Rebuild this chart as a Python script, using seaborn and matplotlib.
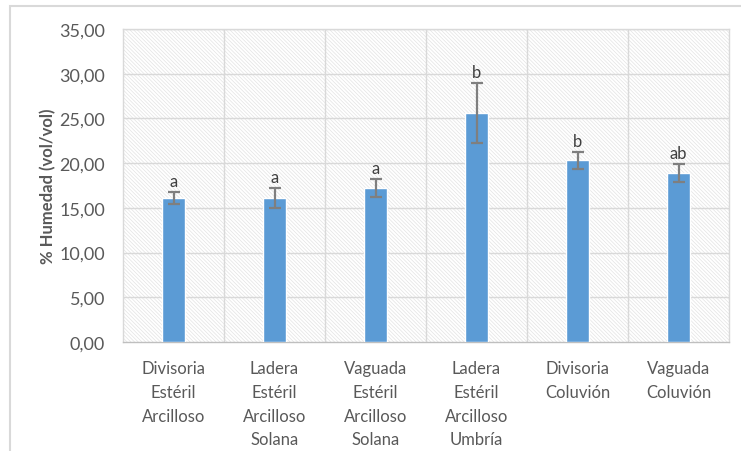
import matplotlib
matplotlib.use("Agg")
import matplotlib.pyplot as plt
from matplotlib.patches import Rectangle
import numpy as np
import pandas as pd
import seaborn as sns

# Soil moisture by landform unit
categories = [
    "Divisoria\nEstéril\nArcilloso",
    "Ladera\nEstéril\nArcilloso\nSolana",
    "Vaguada\nEstéril\nArcilloso\nSolana",
    "Ladera\nEstéril\nArcilloso\nUmbría",
    "Divisoria\nColuvión",
    "Vaguada\nColuvión",
]
humidity = [16.1, 16.1, 17.2, 25.6, 20.3, 18.9]
errors = [0.7, 1.15, 1.0, 3.4, 0.9, 1.0]
groups = ["a", "a", "a", "b", "b", "ab"]
y_ticks = [0, 5, 10, 15, 20, 25, 30, 35]

df = pd.DataFrame({"unit": categories, "humidity": humidity})

sns.set_theme(style="white")
plt.rcParams["font.family"] = ["Lato", "DejaVu Sans"]
plt.rcParams["hatch.linewidth"] = 0.5

text_color = "#595959"
grid_color = "#d9d9d9"
bar_color = "#5b9bd5"

fig = plt.figure(figsize=(7.41, 4.52), dpi=100)
ax = fig.add_axes([123 / 741, 1 - 343 / 452, 606 / 741, 313 / 452])

# finely hatched plot-area background
bg = Rectangle((0, 0), 1, 1, transform=ax.transAxes, facecolor="white",
               edgecolor="#e3e3e3", hatch="\\" * 9, linewidth=0, zorder=0)
ax.add_patch(bg)

sns.barplot(data=df, x="unit", y="humidity", color=bar_color, width=0.22,
            saturation=1, errorbar=None, ax=ax, zorder=3)

x = np.arange(len(categories))
ax.errorbar(x, humidity, yerr=errors, fmt="none", ecolor="#7f7f7f",
            elinewidth=1.6, capsize=4, capthick=1.6, zorder=4)

for xi, h, e, g in zip(x, humidity, errors, groups):
    ax.text(xi, h + e + 0.35, g, ha="center", va="bottom", fontsize=12,
            color="#404040", zorder=5)

ax.set_ylim(0, 35)
ax.set_xlim(-0.5, len(categories) - 0.5)
ax.set_yticks(y_ticks)
ax.set_yticklabels([f"{v:.2f}".replace(".", ",") for v in y_ticks])
ax.set_xticks(x)
ax.set_xticklabels(categories, linespacing=1.6)

# category separators and value gridlines
for b in np.arange(0.5, len(categories) - 0.5, 1):
    ax.axvline(b, color=grid_color, linewidth=1, zorder=1)
for t in y_ticks[1:]:
    ax.axhline(t, color=grid_color, linewidth=1, zorder=1)

for s in ax.spines.values():
    s.set_color(grid_color)
    s.set_linewidth(1)
ax.spines["bottom"].set_color("#bfbfbf")

ax.tick_params(axis="y", length=0, pad=13, labelsize=13, labelcolor=text_color)
ax.tick_params(axis="x", length=0, pad=13, labelsize=12, labelcolor=text_color)
ax.set_xlabel("")
ax.set_ylabel("% Humedad (vol/vol)", fontsize=12, color=text_color,
              fontweight="bold", labelpad=2)

# chart frame
frame = Rectangle((10 / 741, -0.1), 1.2, 1.1 - 7 / 452, transform=fig.transFigure,
                  facecolor="none", edgecolor="#d9d9d9", linewidth=1.5,
                  zorder=-1)
fig.patches.append(frame)

fig.savefig("out.png", dpi=100)
